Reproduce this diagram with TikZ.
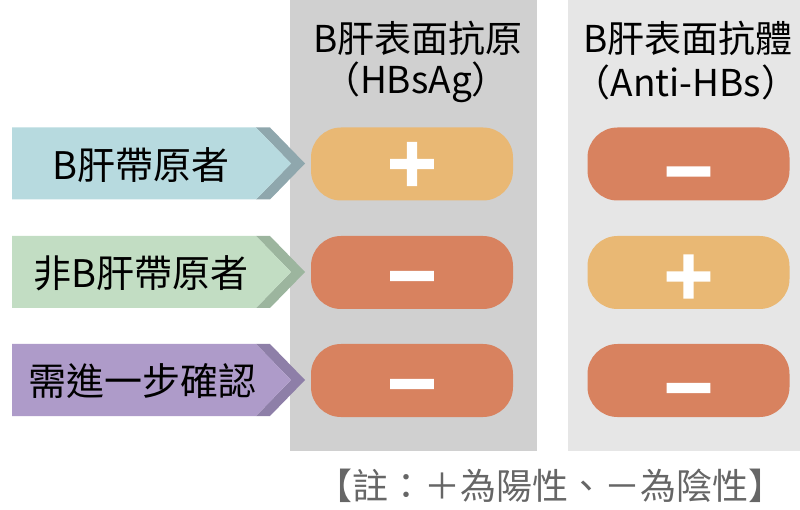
\documentclass[tikz,border=0pt]{standalone}
\usepackage{fontspec}
\setmainfont{Noto Sans CJK TC}
\newfontfamily\signfont{DejaVu Sans Bold}[FakeBold=4]
\definecolor{colA}{HTML}{D0D0D0}
\definecolor{colB}{HTML}{E6E6E6}
\definecolor{posc}{HTML}{E9B874}
\definecolor{negc}{HTML}{D8825F}
\definecolor{blueL}{HTML}{B7DADF}
\definecolor{blueD}{HTML}{8FA7AD}
\definecolor{greenL}{HTML}{C2DDC3}
\definecolor{greenD}{HTML}{9CB59E}
\definecolor{purpL}{HTML}{AE9BC9}
\definecolor{purpD}{HTML}{8E7FA8}
\definecolor{notec}{HTML}{666666}
\tikzset{
  pill/.style={minimum width=202pt, minimum height=73pt, rounded corners=30pt, inner sep=0pt},
  pospill/.style={pill, fill=posc},
  negpill/.style={pill, fill=negc},
  hdr/.style={font=\fontsize{37}{40}\selectfont, text=black, inner sep=0pt},
  lbl/.style={font=\fontsize{38}{40}\selectfont, text=black, inner sep=0pt},
  signtxt/.style={font=\signfont\fontsize{66}{66}\selectfont, text=white, inner sep=0pt},
}
\newcommand{\chevshape}[3]{%
  \fill[#3] (256,#1-36) -- (270,#1-36) -- (305,#1) -- (270,#1+36) -- (256,#1+36) -- (291,#1) -- cycle;
  \fill[#2] (12,#1-36) -- (256,#1-36) -- (291,#1) -- (256,#1+36) -- (12,#1+36) -- cycle;
}
\begin{document}
\begin{tikzpicture}[x=1pt,y=-1pt]
\useasboundingbox (0,0) rectangle (800,510);
% columns
\fill[colA] (290,0) rectangle (537,451);
\fill[colB] (568,0) rectangle (800,451);
% headers
\node[hdr] (h1a) at (418,38) {B肝表面抗原};
\node[hdr] (h1b) at (416,82) {（HBsAg）};
\node[hdr] (h2a) at (688,38) {B肝表面抗體};
\node[hdr] (h2b) at (686,82) {（Anti-HBs）};
% arrows
\chevshape{163.5}{blueL}{blueD}
\chevshape{272}{greenL}{greenD}
\chevshape{380}{purpL}{purpD}
\node[lbl] (r1) at (141,165) {B肝帶原者};
\node[lbl] (r2) at (141,273) {非B肝帶原者};
\node[lbl] (r3) at (142,381) {需進一步確認};
% pills
\node[pospill] (p11) at (412,164) {};
\node[negpill] (p21) at (412,272.5) {};
\node[negpill] (p31) at (412,380.5) {};
\node[negpill] (p12) at (688.5,164) {};
\node[pospill] (p22) at (688.5,272.5) {};
\node[negpill] (p32) at (688.5,380.5) {};
\node[signtxt] (s11) at (p11) {+};
\node[signtxt] (s21) at ([yshift=-12pt]p21.center) {−};
\node[signtxt] (s31) at ([yshift=-12pt]p31.center) {−};
\node[signtxt] (s12) at ([yshift=-16pt]p12.center) {−};
\node[signtxt] (s22) at ([yshift=-4pt]p22.center) {+};
\node[signtxt] (s32) at ([yshift=-16pt]p32.center) {−};
% note
\node[font=\fontsize{36}{38}\selectfont, text=notec, inner sep=0pt] (note) at (550,486) {【註：＋為陽性、－為陰性】};
\end{tikzpicture}
\end{document}
